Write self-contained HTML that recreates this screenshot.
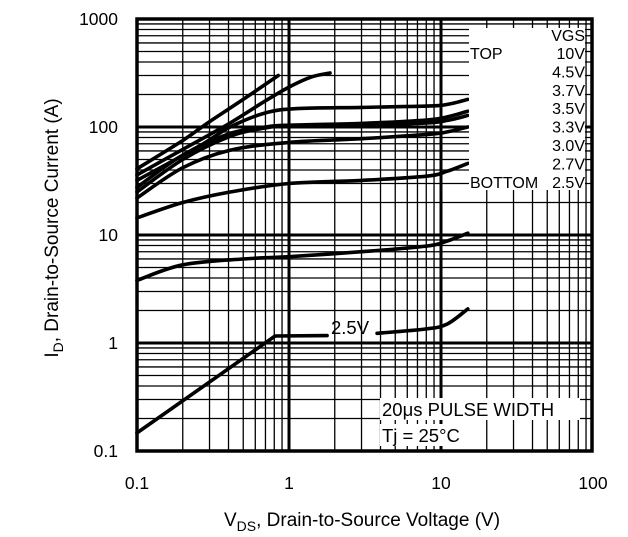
<!DOCTYPE html>
<html><head><meta charset="utf-8"><style>
html,body{margin:0;padding:0;background:#fff;}
svg{display:block;font-family:"Liberation Sans",Arial,sans-serif;}
</style></head><body>
<svg id="chart" width="628" height="537" viewBox="0 0 628 537" xmlns="http://www.w3.org/2000/svg">
<g id="grid"></g>
<g id="curves"></g>
<g id="legend"></g>
<rect x="137" y="19" width="455" height="432" fill="none" stroke="#000" stroke-width="3.5"/>
<g id="ticks" font-size="17.5" fill="#000"></g>
<text transform="translate(58,228) rotate(-90)" text-anchor="middle" font-size="19">I<tspan font-size="14" dy="5">D</tspan><tspan dy="-5">, Drain-to-Source Current (A)</tspan></text>
<text x="362" y="526" text-anchor="middle" font-size="19">V<tspan font-size="14" dy="5">DS</tspan><tspan dy="-5">, Drain-to-Source Voltage (V)</tspan></text>
<rect x="380" y="398" width="200" height="22" fill="#fff"/>
<rect x="380" y="424" width="92" height="22" fill="#fff"/>
<text x="382" y="416" font-size="18.5">20μs PULSE WIDTH</text>
<text x="382" y="442" font-size="18.5">Tj = 25°C</text>
</svg>
<script>
const xTicks=[0.1,1,10,100];
const xTickLabels=["0.1","1","10","100"];
const yTicks=[0.1,1,10,100,1000];
const yTickLabels=["0.1","1","10","100","1000"];
const vgsLabels=["10V","4.5V","3.7V","3.5V","3.3V","3.0V","2.7V","2.5V"];
const c10V=[[0.1,41],[0.2,75],[0.3,112],[0.5,180],[0.85,300]];
const c45V=[[0.1,36],[0.2,62],[0.41,109],[0.7,175],[1,234],[1.4,290],[1.86,316]];
const c37V=[[0.1,32],[0.25,65],[0.41,100],[0.7,135],[1.13,148],[3,152],[8,156],[11,162],[15,180]];
const c35V=[[0.1,27.6],[0.2,55],[0.41,87],[0.7,100],[1,104],[3,108],[8,116],[11,124],[15,140]];
const c33V=[[0.1,25],[0.2,50],[0.41,82],[0.7,98],[1,102],[3,104],[8,109],[11,115],[15,128]];
const c30V=[[0.1,22],[0.2,42],[0.41,61],[1,72],[3,78],[8,85],[11,90],[15,100]];
const c27V=[[0.1,14.4],[0.2,20],[0.41,25],[1,30],[3,32],[8,35],[11,39],[15,46]];
const c25Vhi=[[0.1,3.8],[0.2,5.3],[0.5,6],[1,6.3],[3,7],[8,7.9],[11,8.8],[15,10.4]];
const c25VloA=[[0.1,0.147],[0.81,1.16],[1.78,1.17]];
const c25VloB=[[3.8,1.23],[8,1.35],[11,1.5],[15,2.07]];
const NS="http://www.w3.org/2000/svg";
function X(v){return 137+152*Math.log10(v/0.1);}
function Y(i){return 451-108*Math.log10(i/0.1);}
function mk(t,a,p){const e=document.createElementNS(NS,t);for(const k in a)e.setAttribute(k,a[k]);p.appendChild(e);return e;}
function smooth(c,lin){const P=c.map(p=>[X(p[0]),Y(p[1])]);
 if(lin){return P.map((p,j)=>(j?'L':'M')+p[0].toFixed(1)+','+p[1].toFixed(1)).join('');}
 let d='M'+P[0][0].toFixed(1)+','+P[0][1].toFixed(1);
 for(let j=0;j<P.length-1;j++){const p0=P[j-1]||P[j],p1=P[j],p2=P[j+1],p3=P[j+2]||P[j+1];
  const a=[p1[0]+(p2[0]-p0[0])/6,p1[1]+(p2[1]-p0[1])/6],b=[p2[0]-(p3[0]-p1[0])/6,p2[1]-(p3[1]-p1[1])/6];
  d+='C'+a[0].toFixed(1)+','+a[1].toFixed(1)+' '+b[0].toFixed(1)+','+b[1].toFixed(1)+' '+p2[0].toFixed(1)+','+p2[1].toFixed(1);}
 return d;}
const grid=document.getElementById('grid');
for(let d=0.1;d<100;d*=10){for(let m=1;m<10;m++){const v=d*m;const x=X(v);
 const l=mk('line',{x1:x,x2:x,y1:19,y2:451,stroke:'#000','stroke-width':m===1?3:1.3},grid);
 }}
for(let d=0.1;d<1000;d*=10){for(let m=1;m<10;m++){const v=d*m;const y=Y(v);
 const l=mk('line',{x1:137,x2:592,y1:y,y2:y,stroke:'#000','stroke-width':m===1?3:1.3},grid);
 }}
const lg=document.getElementById('legend');
const bx=mk('rect',{x:469,y:28,width:116,height:162,fill:'#fff'},lg);

const curves=document.getElementById('curves');
const all=[c10V,c45V,c37V,c35V,c33V,c30V,c27V,c25Vhi,c25VloA,c25VloB];
const names=['curve-10v','curve-4-5v','curve-3-7v','curve-3-5v','curve-3-3v','curve-3-0v','curve-2-7v','curve-2-5v-upper','curve-2-5v-a','curve-2-5v-b'];
all.forEach((c,k)=>{
 const p=mk('path',{d:smooth(c,k===8),fill:'none',stroke:'#000','stroke-width':3.6,'stroke-linejoin':'round','stroke-linecap':'round'},curves);
 
});
const lab=mk('text',{x:331,y:334,'font-size':18.5},curves);lab.textContent='2.5V';

const t0=mk('text',{x:585,y:41,'text-anchor':'end','font-size':16},lg);t0.textContent='VGS';

vgsLabels.forEach((s,k)=>{const t=mk('text',{x:585,y:59+k*18.4,'text-anchor':'end','font-size':16},lg);t.textContent=s;
 });
const tp=mk('text',{x:470,y:59,'font-size':16},lg);tp.textContent='TOP';

const bt=mk('text',{x:470,y:188,'font-size':16},lg);bt.textContent='BOTTOM';

const tk=document.getElementById('ticks');
xTicks.forEach((v,k)=>{const t=mk('text',{x:X(v),y:489,'text-anchor':'middle'},tk);t.textContent=xTickLabels[k];
 });
yTicks.forEach((v,k)=>{const t=mk('text',{x:118,y:Y(v)+6,'text-anchor':'end'},tk);t.textContent=yTickLabels[k];
 });
</script>
</body></html>
